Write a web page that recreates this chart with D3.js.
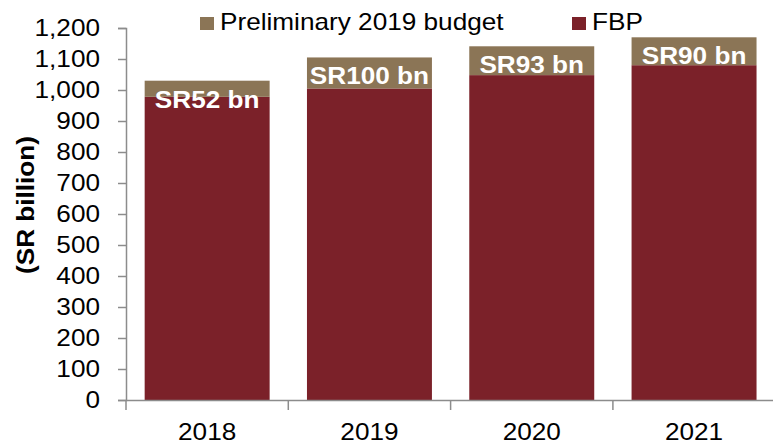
<!DOCTYPE html>
<html>
<head>
<meta charset="utf-8">
<script src="https://cdn.jsdelivr.net/npm/d3@7"></script>
<style>
    body { margin: 0; background: #fff; }
    text { font-family: "Liberation Sans", Arial, sans-serif; }
</style>
</head>
<body>
<div id="chart"></div>
<script>
    // chart values
    var years = ["2018", "2019", "2020", "2021"];
    var fbp = [978, 1005, 1048, 1080];
    var prelim = [52, 100, 93, 90];
    var barLabels = ["SR52 bn", "SR100 bn", "SR93 bn", "SR90 bn"];
    var yTicks = [0, 100, 200, 300, 400, 500, 600, 700, 800, 900, 1000, 1100, 1200];

    var colFBP = "#7b2129", colPre = "#8b7556", axisCol = "#8c8c8c";
    var W = 773, H = 445;
    var fontSize = 24, stretchX = 1.09;

    var svg = d3.select("#chart").append("svg")
        .attr("width", W).attr("height", H);

    var x = d3.scaleBand().domain(years).range([126, 775.2])
        .paddingInner(0.23).paddingOuter(0.115);
    var y = d3.scaleLinear().domain([0, 1200]).range([400, 28]);

    // the picture's text is a bit wider than plain Arial, so stretch it
    function stretch(sel) {
        sel.each(function () {
            var len = this.getComputedTextLength();
            d3.select(this).attr("textLength", len * stretchX).attr("lengthAdjust", "spacingAndGlyphs");
        });
    }

    var data = years.map(function (d, i) {
        return {year: d, fbp: fbp[i], pre: prelim[i], label: barLabels[i]};
    });

    // bars: FBP at the bottom, preliminary on top
    svg.selectAll("rect.fbp").data(data).enter().append("rect")
        .attr("class", "fbp")
        .attr("x", function (d) { return x(d.year); })
        .attr("width", x.bandwidth())
        .attr("y", function (d) { return y(d.fbp); })
        .attr("height", function (d) { return y(0) - y(d.fbp); })
        .attr("fill", colFBP);
    svg.selectAll("rect.pre").data(data).enter().append("rect")
        .attr("class", "pre")
        .attr("x", function (d) { return x(d.year); })
        .attr("width", x.bandwidth())
        .attr("y", function (d) { return y(d.fbp + d.pre); })
        .attr("height", function (d) { return y(d.fbp) - y(d.fbp + d.pre); })
        .attr("fill", colPre);

    // labels inside the bars
    svg.selectAll("text.blab").data(data).enter().append("text")
        .attr("class", "blab")
        .attr("x", function (d) { return x(d.year) + x.bandwidth() / 2; })
        .attr("y", function (d) { return y(d.fbp + d.pre) + 27; })
        .attr("text-anchor", "middle")
        .attr("fill", "#fff")
        .style("font-size", fontSize + "px")
        .style("font-weight", "bold")
        .text(function (d) { return d.label; })
        .call(stretch);

    // y axis
    var yAxis = svg.append("g")
        .attr("transform", "translate(126,0)")
        .call(d3.axisLeft(y).tickValues(yTicks).tickSize(8).tickPadding(18).tickFormat(d3.format(",")));
    yAxis.select(".domain").attr("stroke", axisCol).attr("stroke-width", 1.5);
    yAxis.selectAll(".tick line").attr("stroke", axisCol).attr("stroke-width", 1.5);
    yAxis.selectAll(".tick text").attr("fill", "#000").style("font-size", fontSize + "px")
        .style("font-family", "'Liberation Sans', Arial, sans-serif").call(stretch);

    // x axis: line plus ticks at the band edges
    var xAxis = svg.append("g").attr("transform", "translate(0,400)")
        .call(d3.axisBottom(x).tickSize(0).tickPadding(23));
    xAxis.select(".domain").attr("stroke", axisCol).attr("stroke-width", 1.5);
    xAxis.selectAll(".tick text").attr("fill", "#000").style("font-size", fontSize + "px")
        .style("font-family", "'Liberation Sans', Arial, sans-serif").call(stretch);
    var half = x.step() * 0.115;
    xAxis.selectAll("line.edge").data(years).enter().append("line")
        .attr("class", "edge")
        .attr("x1", function (d) { return x(d) - half; })
        .attr("x2", function (d) { return x(d) - half; })
        .attr("y1", 0).attr("y2", 10)
        .attr("stroke", axisCol).attr("stroke-width", 1.5);

    // y title
    svg.append("text")
        .attr("transform", "translate(34,205) rotate(-90)")
        .attr("text-anchor", "middle")
        .style("font-size", fontSize + "px")
        .style("font-weight", "bold")
        .text("(SR billion)")
        .call(stretch);

    // legend
    var legend = [
        {name: "Preliminary 2019 budget", color: colPre, x: 200},
        {name: "FBP", color: colFBP, x: 572}
    ];
    var lg = svg.selectAll("g.lg").data(legend).enter().append("g")
        .attr("class", "lg")
        .attr("transform", function (d) { return "translate(" + d.x + ",0)"; });
    lg.append("rect").attr("x", 0).attr("y", 17).attr("width", 14).attr("height", 13)
        .attr("fill", function (d) { return d.color; });
    lg.append("text").attr("x", 20).attr("y", 30)
        .style("font-size", fontSize + "px")
        .text(function (d) { return d.name; })
        .call(stretch);
</script>
</body>
</html>
